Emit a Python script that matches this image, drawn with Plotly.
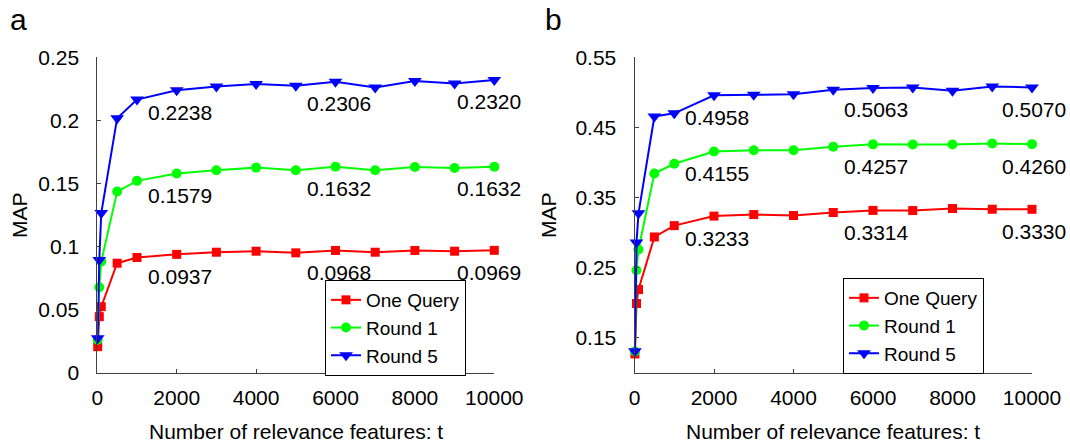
import plotly.graph_objects as go

# ---------------- data ----------------
t_values = [10, 50, 100, 500, 1000, 2000, 3000, 4000, 5000, 6000, 7000, 8000, 9000, 10000]

series_names = ["One Query", "Round 1", "Round 5"]

one_query_a = [0.0205, 0.0443, 0.0522, 0.0867, 0.0912, 0.0937, 0.0954, 0.0962, 0.0949, 0.0968, 0.0954, 0.0968, 0.0962, 0.0969]
round1_a = [0.0260, 0.0676, 0.0880, 0.1435, 0.1520, 0.1579, 0.1604, 0.1625, 0.1604, 0.1632, 0.1604, 0.1630, 0.1622, 0.1632]
round5_a = [0.0271, 0.0893, 0.1265, 0.2017, 0.2165, 0.2238, 0.2269, 0.2288, 0.2275, 0.2306, 0.2261, 0.2312, 0.2293, 0.2320]

one_query_b = [0.1265, 0.1985, 0.2185, 0.2935, 0.3097, 0.3233, 0.3255, 0.3241, 0.3284, 0.3314, 0.3312, 0.3341, 0.3331, 0.3330]
round1_b = [0.1300, 0.2460, 0.2757, 0.3841, 0.3980, 0.4155, 0.4174, 0.4174, 0.4222, 0.4257, 0.4255, 0.4255, 0.4270, 0.4260]
round5_b = [0.1305, 0.2855, 0.3272, 0.4655, 0.4700, 0.4958, 0.4964, 0.4973, 0.5036, 0.5063, 0.5069, 0.5021, 0.5083, 0.5070]

labelled_t = [2000, 6000, 10000]

x_tickvals = [0, 2000, 4000, 6000, 8000, 10000]
x_ticktext = ["0", "2000", "4000", "6000", "8000", "10000"]
y_tickvals_a = [0, 0.05, 0.1, 0.15, 0.2, 0.25]
y_ticktext_a = ["0", "0.05", "0.1", "0.15", "0.2", "0.25"]
y_tickvals_b = [0.15, 0.25, 0.35, 0.45, 0.55]
y_ticktext_b = ["0.15", "0.25", "0.35", "0.45", "0.55"]

panel_labels = ["a", "b"]
x_title = "Number of relevance features: t"
y_title = "MAP"

# ---------------- styling ----------------
W, H = 1070, 444
FONT = "Arial, Liberation Sans, sans-serif"
FS = 21
colors = ["#ff0000", "#00ff00", "#0000ff"]
symbols = ["square", "circle", "triangle-down"]
msizes = [9, 10, 12]
AXC = "#404040"

# pixel layout of the plot areas
ax_a = (97.3, 494.3)
ax_b = (634.5, 1032.0)
ax_y = (57.3, 372.5)


def fx(px):
    return px / W


def fy(py):
    return 1 - py / H


fig = go.Figure()

panels = [
    ("x", "y", "legend", [one_query_a, round1_a, round5_a], -5),
    ("x2", "y2", "legend2", [one_query_b, round1_b, round5_b], 2),
]

for xa, ya, lg, data, last_shift in panels:
    for name, vals, c, s, ms in zip(series_names, data, colors, symbols, msizes):
        fig.add_trace(go.Scatter(
            x=t_values, y=vals, name=name, mode="lines+markers",
            line=dict(color=c, width=2),
            marker=dict(color=c, symbol=s, size=ms, line=dict(width=0)),
            xaxis=xa, yaxis=ya, legend=lg, cliponaxis=False,
        ))
        for tv in labelled_t:
            i = t_values.index(tv)
            fig.add_annotation(
                x=tv, y=vals[i], xref=xa, yref=ya, text=f"{vals[i]:.4f}",
                showarrow=False, yshift=-22,
                xshift=last_shift if tv == labelled_t[-1] else 3,
                font=dict(family=FONT, size=FS, color="black"),
            )

axis_common = dict(
    showline=True, linecolor=AXC, linewidth=1, ticks="inside", ticklen=4,
    tickcolor=AXC, tickwidth=1, showgrid=False, zeroline=False, automargin=False,
    tickfont=dict(family=FONT, size=FS, color="black"),
)

legend_common = dict(
    xanchor="left", yanchor="top", bgcolor="white", bordercolor="black",
    borderwidth=1, font=dict(family=FONT, size=19, color="black"),
    itemwidth=30, tracegroupgap=0,
)

fig.update_layout(
    template="none",
    width=W, height=H,
    margin=dict(l=0, r=0, t=0, b=0, pad=0, autoexpand=False),
    paper_bgcolor="white", plot_bgcolor="white",
    xaxis=dict(domain=[fx(ax_a[0]), fx(ax_a[1])], range=[0, 10000], anchor="y",
               tickvals=x_tickvals, ticktext=x_ticktext, ticklabelstandoff=6, **axis_common),
    yaxis=dict(domain=[fy(ax_y[1]), fy(ax_y[0])], range=[0, 0.25], anchor="x",
               tickvals=y_tickvals_a, ticktext=y_ticktext_a, ticklabelstandoff=13, **axis_common),
    xaxis2=dict(domain=[fx(ax_b[0]), fx(ax_b[1])], range=[0, 10000], anchor="y2",
                tickvals=x_tickvals, ticktext=x_ticktext, ticklabelstandoff=6, **axis_common),
    yaxis2=dict(domain=[fy(ax_y[1]), fy(ax_y[0])], range=[0.10, 0.55], anchor="x2",
                tickvals=y_tickvals_b, ticktext=y_ticktext_b, ticklabelstandoff=13, **axis_common),
    legend=dict(x=fx(325), y=fy(280), **legend_common),
    legend2=dict(x=fx(843), y=fy(278), **legend_common),
    showlegend=True,
)

# axis titles and panel labels
for (x0, x1), mapx, lab, lx in [(ax_a, 20, panel_labels[0], 8), (ax_b, 549, panel_labels[1], 543)]:
    fig.add_annotation(x=fx((x0 + x1) / 2), y=fy(431), xref="paper", yref="paper",
                       text=x_title, showarrow=False, xanchor="center", yanchor="middle",
                       font=dict(family=FONT, size=FS, color="black"))
    fig.add_annotation(x=fx(mapx), y=fy((ax_y[0] + ax_y[1]) / 2), xref="paper", yref="paper",
                       text=y_title, showarrow=False, textangle=-90, xanchor="center", yanchor="middle",
                       font=dict(family=FONT, size=FS, color="black"))
    fig.add_annotation(x=fx(lx), y=fy(19), xref="paper", yref="paper",
                       text=lab, showarrow=False, xanchor="left", yanchor="middle",
                       font=dict(family=FONT, size=30, color="black"))

fig.write_html("out.html")
